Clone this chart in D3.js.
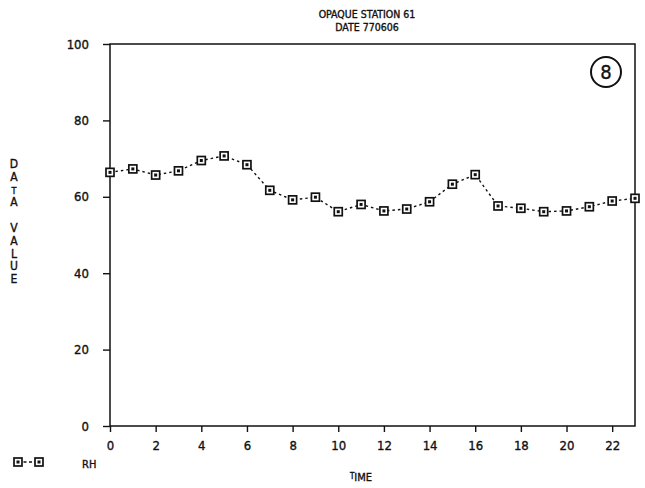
<!DOCTYPE html>
<html><head><meta charset="utf-8">
<script src="https://cdn.jsdelivr.net/npm/d3@7"></script>
<style>
html,body{margin:0;padding:0;background:#fff;}
text{font-family:"DejaVu Sans Condensed","DejaVu Sans",sans-serif;fill:#111;stroke:#111;stroke-width:0.35;}
</style></head>
<body>
<svg id="chart" width="645" height="488"></svg>
<script>
const titleLines = ["OPAQUE STATION 61", "DATE 770606"];
const hours = d3.range(0, 24);
const rh = [66.4, 67.3, 65.7, 66.8, 69.5, 70.7, 68.4, 61.7, 59.2, 59.9, 56.1, 58.0, 56.3, 56.8, 58.7, 63.3, 65.8, 57.6, 57.0, 56.1, 56.3, 57.4, 58.9, 59.6];
const xTicks = [0, 2, 4, 6, 8, 10, 12, 14, 16, 18, 20, 22];
const yTicks = [0, 20, 40, 60, 80, 100];
const yLabelLetters = ["D","A","T","A","","V","A","L","U","E"];
const seriesName = "RH";
const panelNumber = "8";

const svg = d3.select("#chart");
const x = d3.scaleLinear().domain([0, 23]).range([110, 635]);
const y = d3.scaleLinear().domain([0, 100]).range([426, 44]);

// frame
svg.append("rect").attr("x", x(0)).attr("y", y(100))
  .attr("width", x(23) - x(0)).attr("height", y(0) - y(100))
  .attr("fill", "none").attr("stroke", "#111").attr("stroke-width", 1.5);

// y axis
const yAxis = d3.axisLeft(y).tickValues(yTicks).tickSize(7).tickPadding(14).tickFormat(d3.format("d"));
const gy = svg.append("g").attr("transform", `translate(${x(0)},0)`).call(yAxis);
gy.select(".domain").remove();
gy.selectAll("line").attr("stroke", "#111").attr("stroke-width", 1.4);
gy.selectAll("text").attr("font-size", 13).attr("fill", "#111").attr("font-family", null);

// x axis
const xAxis = d3.axisBottom(x).tickValues(xTicks).tickSize(6).tickPadding(9).tickFormat(d3.format("d"));
const gx = svg.append("g").attr("transform", `translate(0,${y(0)})`).call(xAxis);
gx.select(".domain").remove();
gx.selectAll("line").attr("stroke", "#111").attr("stroke-width", 1.4);
gx.selectAll("text").attr("font-size", 13).attr("fill", "#111").attr("font-family", null);

// title
svg.selectAll(".title").data(titleLines).enter().append("text")
  .attr("x", 367).attr("y", (d, i) => 18 + i * 13)
  .attr("text-anchor", "middle").attr("font-size", 10.5).text(d => d);

// y label (stacked letters)
svg.selectAll(".ylab").data(yLabelLetters).enter().append("text")
  .attr("x", 14).attr("y", (d, i) => 168 + i * 12.8)
  .attr("text-anchor", "middle").attr("font-size", (d, i) => i === 2 ? 9 : 12).text(d => d);

// x label
const xl = svg.append("text").attr("x", 361).attr("y", 481).attr("text-anchor", "middle")
  .attr("font-size", 11);
xl.append("tspan").attr("font-size", 8).attr("dy", -2).text("T");
xl.append("tspan").attr("dy", 2).text("IME");

// line
const line = d3.line().x((d, i) => x(hours[i])).y(d => y(d));
svg.append("path").datum(rh).attr("d", line).attr("fill", "none")
  .attr("stroke", "#111").attr("stroke-width", 1.4).attr("stroke-dasharray", "2.5,3");

// markers
function marker(g) {
  g.append("rect").attr("x", -4).attr("y", -4).attr("width", 8).attr("height", 8)
    .attr("fill", "#fff").attr("stroke", "#111").attr("stroke-width", 1.7);
  g.append("rect").attr("x", -1.5).attr("y", -1.5).attr("width", 3).attr("height", 3)
    .attr("fill", "#111");
}
svg.selectAll(".pt").data(rh).enter().append("g")
  .attr("transform", (d, i) => `translate(${x(hours[i])},${y(d)})`)
  .each(function () { marker(d3.select(this)); });

// legend
const lg = svg.append("g");
lg.append("line").attr("x1", 18).attr("x2", 39).attr("y1", 462).attr("y2", 462)
  .attr("stroke", "#111").attr("stroke-width", 1.3).attr("stroke-dasharray", "3,2.5");
[18, 39].forEach(px => lg.append("g").attr("transform", `translate(${px},462)`).each(function(){ marker(d3.select(this)); }));
lg.append("text").attr("x", 82).attr("y", 468).attr("font-size", 11).text(seriesName);

// circled panel number
svg.append("circle").attr("cx", 606).attr("cy", 72).attr("r", 15)
  .attr("fill", "none").attr("stroke", "#111").attr("stroke-width", 2);
svg.append("text").attr("x", 606).attr("y", 79).attr("text-anchor", "middle")
  .attr("font-size", 20).attr("font-family", "DejaVu Sans").attr("stroke-width", 0.6).text(panelNumber);
</script>
</body></html>
